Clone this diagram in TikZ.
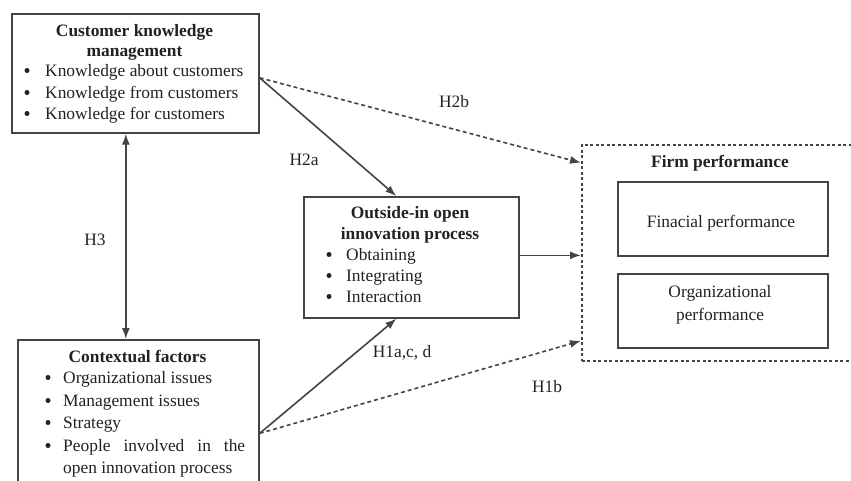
\documentclass[tikz,border=0pt]{standalone}
\usepackage{fontspec}
\setmainfont{Liberation Serif}
\usetikzlibrary{arrows.meta}
\definecolor{ink}{HTML}{222222}
\definecolor{edge}{HTML}{444444}
\begin{document}
\begin{tikzpicture}[x=1pt,y=-1pt,
  box/.style={draw=edge,line width=1.7pt,rectangle,inner sep=0,anchor=north west},
  dbox/.style={draw=edge,line width=1.6pt,dash pattern=on 3pt off 2.5pt,rectangle,inner sep=0,anchor=north west},
  tl/.style={anchor=base west,inner sep=0,text=ink,font=\fontsize{17.4}{21}\selectfont},
  tc/.style={anchor=base,inner sep=0,text=ink,font=\fontsize{17.4}{21}\selectfont},
  th/.style={anchor=base,inner sep=0,text=ink,font=\fontsize{17.4}{21}\selectfont\bfseries},
  bul/.style={circle,fill=ink,inner sep=0,minimum size=5pt},
  tip/.tip={Latex[length=11pt,width=8pt]},
  arr/.style={draw=edge,line width=1.6pt,-tip},
  darr/.style={arr,dash pattern=on 4pt off 3pt},
  biarr/.style={draw=edge,line width=1.6pt,tip-tip}]
\useasboundingbox[fill=white] (0,0) rectangle (851,480);

% boxes
\node[box,minimum width=247pt,minimum height=119pt] (ckm) at (11,13) {};
\node[box,minimum width=241pt,minimum height=155pt] (cf) at (17,339) {};
\node[box,minimum width=215pt,minimum height=121pt] (oi) at (303,196) {};
\node[dbox,minimum width=280pt,minimum height=216pt] (fp) at (581,144) {};
\node[box,minimum width=210pt,minimum height=74pt] (fin) at (617,181) {};
\node[box,minimum width=210pt,minimum height=74pt] (org) at (617,273) {};

% CKM text
\node[th] (ckm1) at (134.5,36) {Customer knowledge};
\node[th] (ckm2) at (134.5,56) {management};
\node[bul] (ckmb1) at (27,70.5) {};
\node[bul] (ckmb2) at (27,92.5) {};
\node[bul] (ckmb3) at (27,113.5) {};
\node[tl] (ckmt1) at (45,76) {Knowledge about customers};
\node[tl] (ckmt2) at (45,98) {Knowledge from customers};
\node[tl] (ckmt3) at (45,119) {Knowledge for customers};

% Contextual factors text
\node[th] (cf1) at (137.5,362) {Contextual factors};
\node[bul] (cfb1) at (48,377.5) {};
\node[bul] (cfb2) at (48,400.5) {};
\node[bul] (cfb3) at (48,422.5) {};
\node[bul] (cfb4) at (48,445.5) {};
\node[tl] (cft1) at (63,383) {Organizational issues};
\node[tl] (cft2) at (63,406) {Management issues};
\node[tl] (cft3) at (63,428) {Strategy};
\node[tl] (cft4) at (63,451) {\makebox[182pt][s]{People involved in the}};
\node[tl] (cft5) at (63,473) {open innovation process};

% Outside-in text
\node[th] (oi1) at (410,218) {Outside-in open};
\node[th] (oi2) at (410,239) {innovation process};
\node[bul] (oib1) at (329,254.5) {};
\node[bul] (oib2) at (329,275.5) {};
\node[bul] (oib3) at (329,296.5) {};
\node[tl] (oit1) at (346,260) {Obtaining};
\node[tl] (oit2) at (346,281) {Integrating};
\node[tl] (oit3) at (346,302) {Interaction};

% Firm performance text
\node[th] (fpt) at (720,167) {Firm performance};
\node[tc] (fint) at (721,227) {Finacial performance};
\node[tc] (orgt1) at (720,297) {Organizational};
\node[tc] (orgt2) at (720,320) {performance};

% connectors
\draw[arr] ([yshift=-4.5pt]ckm.east) -- ([xshift=-15pt]oi.north);
\draw[darr] ([yshift=-4.5pt]ckm.east) -- ([yshift=90pt]fp.west);
\draw[arr] ([yshift=2pt]oi.east) -- ([yshift=2pt]oi.east -| fp.west);
\draw[arr] ([yshift=-16pt]cf.east) -- ([xshift=-15pt]oi.south);
\draw[darr] ([yshift=-16pt]cf.east) -- ([yshift=-88pt]fp.west);
\draw[biarr] ([xshift=-9.5pt]ckm.south) -- ([xshift=-12.5pt]cf.north);

% labels
\node[tc] (h2b) at (454,107) {H2b};
\node[tc] (h2a) at (304,165) {H2a};
\node[tc] (h3) at (95,245) {H3};
\node[tc] (h1a) at (402,357) {H1a,c, d};
\node[tc] (h1b) at (547,392) {H1b};
\end{tikzpicture}
\end{document}
